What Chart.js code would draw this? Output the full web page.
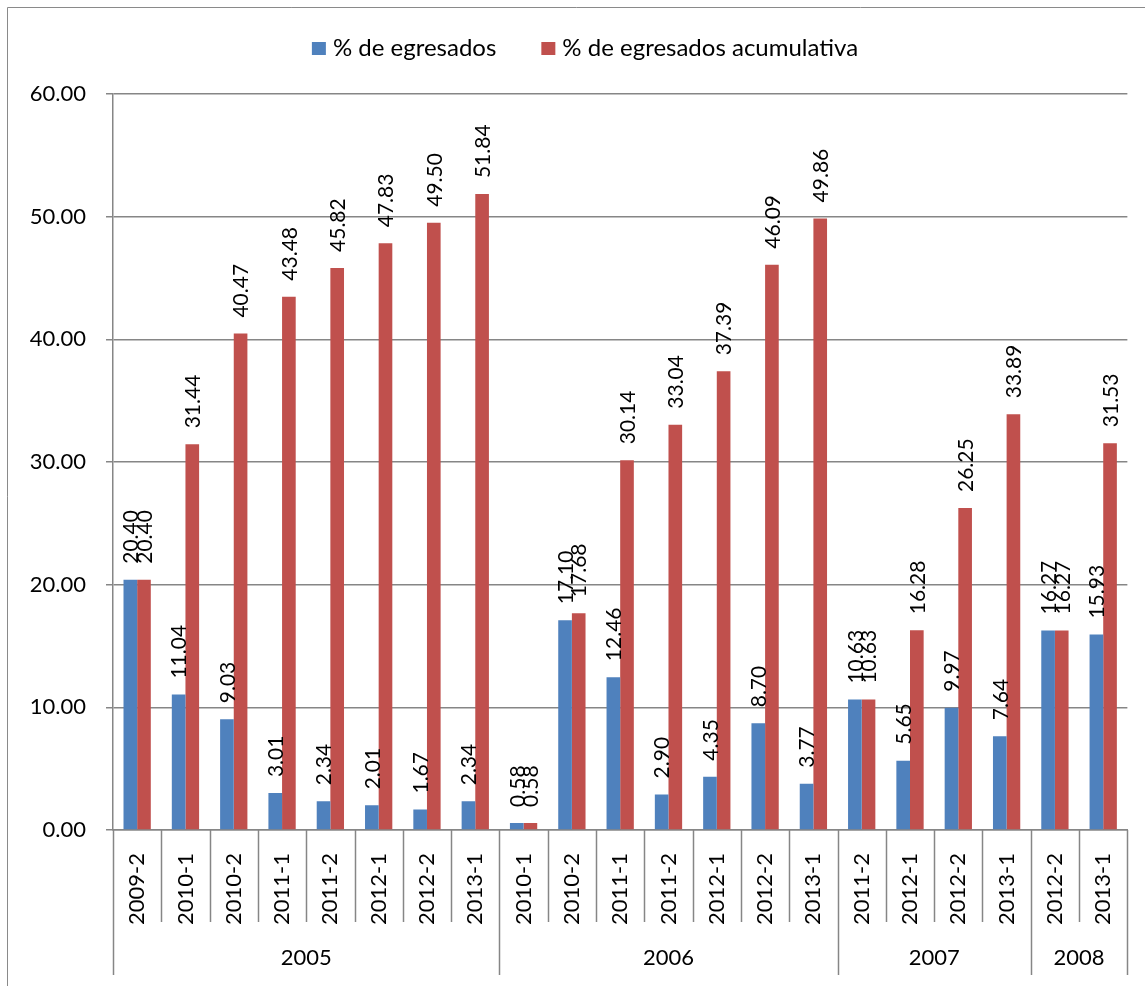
<!DOCTYPE html>
<html>
<head>
<meta charset="utf-8">
<script src="https://cdn.jsdelivr.net/npm/chart.js@4/dist/chart.umd.min.js"></script>
<style>
  html, body { margin: 0; padding: 0; background: #fff; }
  #wrap { position: absolute; left: 0; top: 0; width: 1145px; height: 986px; }
</style>
</head>
<body>
<div id="wrap"><canvas id="chart" width="1145" height="986"></canvas></div>
<script>
// periodos de egreso (eje x, nivel 1)
const periods = [
    '2009-2', '2010-1', '2010-2', '2011-1', '2011-2', '2012-1', '2012-2', '2013-1',
    '2010-1', '2010-2', '2011-1', '2011-2', '2012-1', '2012-2', '2013-1',
    '2011-2', '2012-1', '2012-2', '2013-1',
    '2012-2', '2013-1'
];
// cohortes (eje x, nivel 2) y cuantos periodos tiene cada una
const cohorts = ['2005', '2006', '2007', '2008'];
const cohortSizes = [8, 7, 4, 2];

const egresados = [
    20.40, 11.04, 9.03, 3.01, 2.34, 2.01, 1.67, 2.34,
    0.58, 17.10, 12.46, 2.90, 4.35, 8.70, 3.77,
    10.63, 5.65, 9.97, 7.64,
    16.27, 15.93
];
const acumulativa = [
    20.40, 31.44, 40.47, 43.48, 45.82, 47.83, 49.50, 51.84,
    0.58, 17.68, 30.14, 33.04, 37.39, 46.09, 49.86,
    10.63, 16.28, 26.25, 33.89,
    16.27, 31.53
];
const seriesNames = ['% de egresados', '% de egresados acumulativa'];

const FONT = 'Lato, "Open Sans", sans-serif';
const GRID = '#868686';

const framePlugin = {
    id: 'frame',
    beforeDraw(chart) {
        const ctx = chart.ctx;
        ctx.save();
        ctx.fillStyle = '#fff';
        ctx.fillRect(0, 0, chart.width, chart.height);
        ctx.strokeStyle = '#8a8a8a';
        ctx.lineWidth = 1;
        ctx.beginPath();
        ctx.moveTo(7.5, chart.height);
        ctx.lineTo(7.5, 7.5);
        ctx.lineTo(chart.width, 7.5);
        ctx.stroke();
        ctx.restore();
    }
};

// leyenda centrada arriba
const legendPlugin = {
    id: 'topLegend',
    afterDraw(chart) {
        const ctx = chart.ctx;
        ctx.save();
        ctx.font = '24px ' + FONT;
        ctx.textBaseline = 'middle';
        ctx.fillStyle = '#000';
        const box = 14, gap = 7, between = 45;
        const items = chart.data.datasets.map(ds => ({ text: ds.label, color: ds.backgroundColor }));
        let total = 0;
        items.forEach((it, i) => {
            it.w = ctx.measureText(it.text).width;
            total += box + gap + it.w + (i > 0 ? between : 0);
        });
        let x = 585 - total / 2;
        const y = 48;
        items.forEach((it, i) => {
            if (i > 0) x += between;
            ctx.fillStyle = it.color;
            ctx.fillRect(x, y - 6, box, box - 1);
            x += box + gap;
            ctx.fillStyle = '#000';
            ctx.fillText(it.text, x, y);
            x += it.w;
        });
        ctx.restore();
    }
};

// etiquetas de valor verticales sobre cada barra
const valueLabels = {
    id: 'valueLabels',
    afterDatasetsDraw(chart) {
        const ctx = chart.ctx;
        ctx.save();
        ctx.font = '21px ' + FONT;
        ctx.fillStyle = '#000';
        ctx.textAlign = 'left';
        ctx.textBaseline = 'middle';
        chart.data.datasets.forEach((ds, di) => {
            chart.getDatasetMeta(di).data.forEach((bar, i) => {
                ctx.save();
                ctx.translate(bar.x + 1, bar.y - 16);
                ctx.rotate(-Math.PI / 2);
                ctx.fillText(ds.data[i].toFixed(2), 0, 0);
                ctx.restore();
            });
        });
        ctx.restore();
    }
};

// separadores y segundo nivel del eje x (cohortes)
const groupAxis = {
    id: 'groupAxis',
    afterDraw(chart) {
        const ctx = chart.ctx;
        const xs = chart.scales.x;
        const base = chart.chartArea.bottom;
        const half = (xs.getPixelForValue(1) - xs.getPixelForValue(0)) / 2;
        const edge = i => i < periods.length ? xs.getPixelForValue(i) - half
                                             : xs.getPixelForValue(periods.length - 1) + half;
        const starts = [];
        let acc = 0;
        cohortSizes.forEach(n => { starts.push(acc); acc += n; });
        starts.push(acc);

        ctx.save();
        ctx.strokeStyle = GRID;
        ctx.lineWidth = 1.5;
        for (let i = 0; i <= periods.length; i++) {
            const px = Math.round(edge(i)) + 0.5;
            const long = starts.includes(i);
            ctx.beginPath();
            ctx.moveTo(px, base);
            ctx.lineTo(px, long ? 975 : 922);
            ctx.stroke();
        }
        ctx.font = '22px ' + FONT;
        ctx.fillStyle = '#000';
        ctx.textAlign = 'center';
        ctx.textBaseline = 'middle';
        cohorts.forEach((c, k) => {
            const cx = (edge(starts[k]) + edge(starts[k + 1])) / 2;
            ctx.fillText(c, cx, 958);
        });
        ctx.restore();
    }
};

new Chart(document.getElementById('chart').getContext('2d'), {
    type: 'bar',
    data: {
        labels: periods,
        datasets: [{
            label: seriesNames[0],
            data: egresados,
            backgroundColor: '#4F81BD',
            categoryPercentage: 0.565,
            barPercentage: 1
        }, {
            label: seriesNames[1],
            data: acumulativa,
            backgroundColor: '#C0504D',
            categoryPercentage: 0.565,
            barPercentage: 1
        }]
    },
    options: {
        responsive: false,
        animation: false,
        layout: { padding: { top: 94, right: 16, left: 0, bottom: 0 } },
        plugins: {
            legend: { display: false },
            tooltip: { enabled: false }
        },
        scales: {
            x: {
                grid: { display: false },
                border: { display: true, color: GRID, width: 1.5 },
                ticks: {
                    minRotation: 90,
                    maxRotation: 90,
                    padding: 15,
                    color: '#000',
                    font: { size: 22, family: FONT }
                },
                afterFit(scale) { scale.height = 156; }
            },
            y: {
                min: 0,
                max: 60,
                grid: { color: GRID, lineWidth: 1.5, tickLength: 7 },
                border: { display: true, color: GRID, width: 1.5 },
                ticks: {
                    stepSize: 10,
                    padding: 20,
                    color: '#000',
                    font: { size: 22, family: FONT },
                    callback: v => v.toFixed(2)
                },
                afterFit(scale) { scale.width = 113; }
            }
        }
    },
    plugins: [framePlugin, legendPlugin, valueLabels, groupAxis]
});
</script>
</body>
</html>
